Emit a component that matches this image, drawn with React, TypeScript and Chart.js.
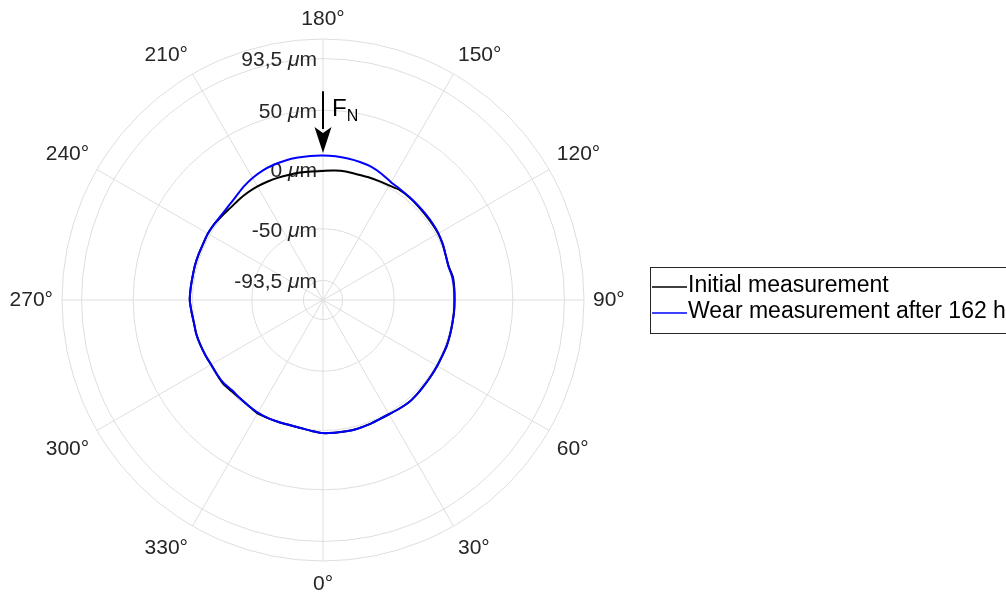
import { useEffect, useRef } from 'react';
import { Chart, registerables } from 'chart.js';

Chart.register(...registerables);

// Angular positions of the samples (degrees, 0° at bottom, counter-clockwise)
const THETA_DEG = [
  0, 5, 10, 15, 20, 25, 30, 35, 40, 45, 50, 55,
  60, 65, 70, 75, 80, 85, 90, 95, 100, 105, 110, 115,
  120, 125, 130, 135, 140, 145, 150, 155, 160, 165, 170, 175,
  180, 185, 190, 195, 200, 205, 210, 215, 220, 225, 230, 235,
  240, 245, 250, 255, 260, 265, 270, 275, 280, 285, 290, 295,
  300, 305, 310, 315, 320, 325, 330, 335, 340, 345, 350, 355,
];

// Radial deviation in µm
const INITIAL = [
  2.2, 2.3, 2.4, 2.3, 1.8, 1.2, 1.2, 1.9, 2.6, 2.2, 1.6, 1.3,
  1.1, 1.0, 1.2, 1.0, 0.8, 0.9, 0.9, 1.1, 1.2, -0.3, 0.1, 1.3,
  2.1, 2.2, 2.3, 2.7, 3.1, 3.0, 1.5, 0.8, 0.3, -0.2, 0.0, -0.5,
  -1.2, -1.2, -0.9, -0.7, -0.2, 0.2, 0.5, 0.6, 0.4, 0.1, 0.8, 1.7,
  2.0, 1.6, 1.7, 1.8, 1.7, 2.0, 2.3, 1.3, 0.5, 0.6, 0.1, -0.5,
  -1.1, -0.8, -0.2, -1.2, -1.5, -1.0, 0.3, -0.2, -0.6, -0.9, -0.5, 0.8,
];

const WEAR = [
  2.2, 2.3, 2.4, 2.3, 1.8, 1.2, 1.2, 1.9, 2.6, 2.2, 1.6, 1.3,
  1.1, 1.0, 1.2, 1.0, 0.8, 0.9, 0.8, 0.9, 0.7, -0.5, 0.1, 1.4,
  2.3, 2.7, 2.8, 3.0, 3.3, 3.8, 4.7, 7.2, 9.4, 10.4, 11.1, 11.6,
  11.8, 11.9, 11.9, 11.8, 11.3, 10.4, 8.8, 6.6, 4.0, 2.4, 1.7, 1.8,
  2.0, 1.6, 1.7, 1.8, 1.7, 2.0, 2.3, 1.3, 0.5, 0.6, 0.1, -0.5,
  -1.1, -0.8, -0.8, -2.0, -1.5, -1.0, -0.3, -0.2, -0.6, -0.9, -0.5, 0.8,
];

const SERIES_LABELS = ['Initial measurement', 'Wear measurement after 162 h'];
const SERIES_COLORS = ['#000000', '#0000ff'];

const THETA_TICKS = [0, 30, 60, 90, 120, 150, 180, 210, 240, 270, 300, 330];
const R_TICKS = [-93.5, -50, 0, 50, 93.5];
const R_TICK_LABELS = ['-93,5', '-50', '0', '50', '93,5'];
const R_MIN = -110;
const R_MAX = 110;

// Force arrow (from / to radial values, at 180°)
const ARROW_ANGLE = 180;
const ARROW_FROM = 66;
const ARROW_TO = 14;

const FONT = '"Liberation Sans", Arial, Helvetica, sans-serif';
const GRID = '#dedede';
const TEXT = '#262626';

// Radar charts run clockwise; the reference runs counter-clockwise from the bottom.
const radarTheta = THETA_DEG.map((_, i) => THETA_DEG[(THETA_DEG.length - i) % THETA_DEG.length]);
const remap = (arr: number[]) => radarTheta.map((t) => arr[THETA_DEG.indexOf(t)]);

export default function App() {
  const ref = useRef<HTMLCanvasElement | null>(null);

  useEffect(() => {
    if (!ref.current) return;
    const labelIndex = (deg: number) => radarTheta.indexOf(deg % 360);

    const overlay = {
      id: 'overlay',
      beforeDatasetsDraw(chart: any) {
        const ctx = chart.ctx;
        const s = chart.scales.r;
        ctx.save();
        ctx.fillStyle = TEXT;
        ctx.textBaseline = 'middle';
        R_TICKS.forEach((v, k) => {
          const d = s.getDistanceFromCenterForValue(v);
          const y = s.yCenter - d + 2;
          const xr = s.xCenter - 6;
          const normal = `21px ${FONT}`;
          const italic = `italic 21px ${FONT}`;
          const a = R_TICK_LABELS[k] + ' ';
          ctx.font = normal;
          const wa = ctx.measureText(a).width;
          const wm = ctx.measureText('m').width;
          ctx.font = italic;
          const wmu = ctx.measureText('μ').width;
          let x = xr - (wa + wmu + wm);
          ctx.textAlign = 'left';
          ctx.font = normal;
          ctx.fillText(a, x, y);
          x += wa;
          ctx.font = italic;
          ctx.fillText('μ', x, y);
          x += wmu;
          ctx.font = normal;
          ctx.fillText('m', x, y);
        });
        ctx.restore();
      },
      afterDraw(chart: any) {
        const ctx = chart.ctx;
        const s = chart.scales.r;
        ctx.save();
        // theta tick labels
        ctx.fillStyle = TEXT;
        ctx.font = `21px ${FONT}`;
        THETA_TICKS.forEach((t) => {
          const p = s.getPointPosition(labelIndex(t), s.drawingArea + 9);
          const dx = p.x - s.xCenter;
          const dy = p.y - s.yCenter;
          ctx.textAlign = dx > 1 ? 'left' : dx < -1 ? 'right' : 'center';
          ctx.textBaseline = dy > 1 ? 'top' : dy < -1 ? 'bottom' : 'middle';
          ctx.fillText(`${t}°`, p.x, p.y + (dy > 1 ? 4 : 0));
        });

        // force arrow
        const i = labelIndex(ARROW_ANGLE);
        const p0 = s.getPointPosition(i, s.getDistanceFromCenterForValue(ARROW_FROM));
        const p1 = s.getPointPosition(i, s.getDistanceFromCenterForValue(ARROW_TO));
        const headLen = 26;
        const headHalf = 8.5;
        ctx.strokeStyle = '#000';
        ctx.fillStyle = '#000';
        ctx.lineWidth = 2;
        ctx.beginPath();
        ctx.moveTo(p0.x, p0.y);
        ctx.lineTo(p1.x, p1.y - headLen + 2);
        ctx.stroke();
        ctx.beginPath();
        ctx.moveTo(p1.x, p1.y);
        ctx.lineTo(p1.x - headHalf, p1.y - headLen);
        ctx.lineTo(p1.x, p1.y - headLen + 6);
        ctx.lineTo(p1.x + headHalf, p1.y - headLen);
        ctx.closePath();
        ctx.fill();
        ctx.textAlign = 'left';
        ctx.textBaseline = 'alphabetic';
        ctx.font = `24px ${FONT}`;
        ctx.fillText('F', p0.x + 9, p0.y + 25);
        const wf = ctx.measureText('F').width;
        ctx.font = `16px ${FONT}`;
        ctx.fillText('N', p0.x + 9 + wf, p0.y + 30);

        // legend
        const lx = 650.5;
        const ly = 267.5;
        ctx.lineWidth = 1;
        ctx.strokeStyle = TEXT;
        ctx.fillStyle = '#fff';
        ctx.fillRect(lx, ly, 400, 66);
        ctx.strokeRect(lx, ly, 400, 66);
        const rows = [286, 311.5];
        SERIES_LABELS.forEach((label, k) => {
          const y = rows[k];
          ctx.strokeStyle = SERIES_COLORS[k];
          ctx.lineWidth = 1.5;
          ctx.beginPath();
          ctx.moveTo(652, Math.round(y) + 1);
          ctx.lineTo(687, Math.round(y) + 1);
          ctx.stroke();
          ctx.fillStyle = '#000';
          ctx.font = `23px ${FONT}`;
          ctx.textAlign = 'left';
          ctx.textBaseline = 'middle';
          ctx.fillText(label, 688, y);
        });
        ctx.restore();
      },
    };

    const chart = new Chart(ref.current, {
      type: 'radar',
      data: {
        labels: radarTheta.map((t) => `${t}°`),
        datasets: [
          {
            label: SERIES_LABELS[0],
            data: remap(INITIAL),
            borderColor: SERIES_COLORS[0],
            backgroundColor: SERIES_COLORS[0],
            borderWidth: 2,
            pointRadius: 0,
            fill: false,
            tension: 0.25,
            order: 1,
          },
          {
            label: SERIES_LABELS[1],
            data: remap(WEAR),
            borderColor: SERIES_COLORS[1],
            backgroundColor: SERIES_COLORS[1],
            borderWidth: 2,
            pointRadius: 0,
            fill: false,
            tension: 0.25,
            order: 0,
          },
        ],
      },
      options: {
        responsive: false,
        animation: false,
        layout: { padding: { left: 62, top: 39, right: 422, bottom: 33 } },
        plugins: { legend: { display: false }, tooltip: { enabled: false } },
        scales: {
          r: {
            min: R_MIN,
            max: R_MAX,
            startAngle: 180,
            angleLines: {
              display: true,
              color: GRID,
              lineWidth: (c: any) => (THETA_TICKS.includes(radarTheta[c.index]) ? 1 : 0),
            },
            grid: { circular: true, color: GRID, lineWidth: 1 },
            pointLabels: { display: false },
            ticks: { display: false },
            afterBuildTicks: (scale: any) => {
              scale.ticks = [...R_TICKS, R_MAX].map((v) => ({ value: v }));
            },
          },
        },
      },
      plugins: [overlay],
    } as any);
    return () => chart.destroy();
  }, []);

  return (
    <div style={{ position: 'fixed', left: 0, top: 0, width: 1006, height: 594, background: '#fff' }}>
      <canvas ref={ref} width={1006} height={594} style={{ display: 'block' }} />
    </div>
  );
}
